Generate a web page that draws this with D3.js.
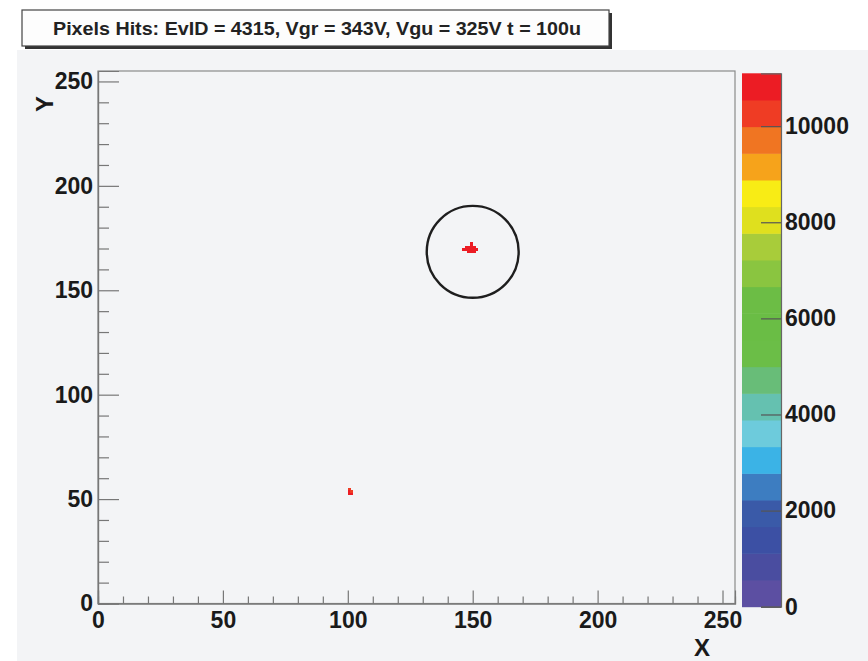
<!DOCTYPE html>
<html><head><meta charset="utf-8">
<script src="https://cdn.jsdelivr.net/npm/d3@7"></script>
<style>
html,body{margin:0;padding:0;background:#fff;}
svg{display:block;}
text{font-family:"Liberation Sans",Arial,Helvetica,sans-serif;}
</style></head>
<body>
<svg id="chart" width="868" height="661"></svg>
<script>
// ---- data ----
const titleText = "Pixels Hits: EvID = 4315, Vgr = 343V, Vgu = 325V t = 100u";
const xDomain = [0, 255];
const yDomain = [0, 255];
const xMajorTicks = [0, 50, 100, 150, 200, 250];
const yMajorTicks = [0, 50, 100, 150, 200, 250];
const zMax = 11100;
const zBands = 20;
const zTicks = [0, 2000, 4000, 6000, 8000, 10000];
const palette = ["#5c4fa2","#4a4da0","#3c50a4","#3a5aa8","#3d7dc1","#3bb3e6","#6dcbdc","#65c1b0","#68bd78","#6bbe47",
                 "#6abd45","#6cbd45","#8ac540","#a8cc3a","#dfe01e","#f8ec15","#f6a31b","#f07522","#ef3c24","#ec1c24"];
// hit pixels (column, row, charge)
const hitX = [148,149,150, 146,147,148,149,150,151, 147,148,149,150, 149,149,  100,100,101,100,101];
const hitY = [168,168,168, 169,169,169,169,169,169, 170,170,170,170, 171,172,   54, 53, 53, 52, 52];
const hitZ = [10700,11000,10800, 10600,10900,11000,11000,10900,10600, 10800,11000,11000,10700, 10900,10600,
              10400,10800,10300,10900,10600];
// circle (fiducial) centre and radius in pixel-column units
const circleCX = [150.0];
const circleCY = [168.4];
const circleR = [18.4];

// ---- layout ----
const svg = d3.select("#chart");
const L = 98, R = 735, T = 71, B = 603.5;
const x = d3.scaleLinear().domain(xDomain).range([L, R]);
const y = d3.scaleLinear().domain(yDomain).range([B, T]);
const z = d3.scaleLinear().domain([0, zMax]).range([606.7, 73.3]);
const zColor = d3.scaleQuantize().domain([0, zMax]).range(palette);

// panel background
svg.append("rect").attr("x", 17).attr("y", 50).attr("width", 868 - 17).attr("height", 661 - 50).attr("fill", "#f3f4f6");

// frame
svg.append("rect").attr("x", L).attr("y", T).attr("width", R - L).attr("height", B - T)
  .attr("fill", "none").attr("stroke", "#8a8a8a").attr("stroke-width", 1.2);

// hits
const hits = hitX.map((d, i) => ({c: d, r: hitY[i], v: hitZ[i]}));
svg.append("g").attr("shape-rendering", "crispEdges").selectAll("rect").data(hits).join("rect")
  .attr("x", d => x(d.c) - 0.3).attr("y", d => y(d.r + 1) - 0.3)
  .attr("width", d => x(d.c + 1) - x(d.c) + 0.6).attr("height", d => y(d.r) - y(d.r + 1) + 0.6)
  .attr("fill", d => zColor(d.v));

// circle
svg.append("g").selectAll("circle").data(circleCX.map((d, i) => ({cx: d, cy: circleCY[i], r: circleR[i]}))).join("circle")
  .attr("cx", d => x(d.cx)).attr("cy", d => y(d.cy)).attr("r", d => x(d.cx + d.r) - x(d.cx))
  .attr("fill", "none").attr("stroke", "#1e1e1e").attr("stroke-width", 2.4);

// axes
const minorX = d3.range(0, 256, 10).filter(v => v % 50 !== 0);
const minorY = d3.range(0, 256, 10).filter(v => v % 50 !== 0);
function styleAxis(g) {
  g.select(".domain").attr("stroke", "#777").attr("stroke-width", 1.2);
  g.selectAll(".tick line").attr("stroke", "#777").attr("stroke-width", 1.2);
  g.selectAll(".tick text").attr("fill", "#1a1a1a").style("font-size", "23px").style("font-weight", "bold");
}
svg.append("g").attr("transform", `translate(0,${B})`)
  .call(d3.axisBottom(x).tickValues(minorX).tickSize(-7).tickFormat("")).call(styleAxis);
svg.append("g").attr("transform", `translate(0,${B})`)
  .call(d3.axisBottom(x).tickValues(xMajorTicks).tickSize(-13).tickPadding(8).tickFormat(d3.format("d"))).call(styleAxis);
svg.append("g").attr("transform", `translate(${L},0)`)
  .call(d3.axisLeft(y).tickValues(minorY).tickSize(-11).tickFormat("")).call(styleAxis);
svg.append("g").attr("transform", `translate(${L},0)`)
  .call(d3.axisLeft(y).tickValues(yMajorTicks).tickSize(-21).tickPadding(5).tickFormat(d3.format("d"))).call(styleAxis);

// axis titles
svg.append("text").attr("x", 710).attr("y", 656).attr("text-anchor", "end")
  .style("font-size", "24px").style("font-weight", "bold").attr("fill", "#1a1a1a").text("X");
svg.append("text").attr("transform", "translate(53,96) rotate(-90)").attr("text-anchor", "end")
  .style("font-size", "24px").style("font-weight", "bold").attr("fill", "#1a1a1a").text("Y");

// colour bar
const cbL = 742, cbR = 781;
const bands = d3.range(zBands).map(i => ({lo: i * zMax / zBands, hi: (i + 1) * zMax / zBands}));
svg.append("g").selectAll("rect").data(bands).join("rect")
  .attr("x", cbL).attr("width", cbR - cbL)
  .attr("y", d => z(d.hi)).attr("height", d => z(d.lo) - z(d.hi) + 0.5)
  .attr("fill", d => zColor((d.lo + d.hi) / 2));
const zAxis = svg.append("g").attr("transform", `translate(${cbR},0)`)
  .call(d3.axisRight(z).tickValues(zTicks).tickSize(-20).tickPadding(4).tickFormat(d3.format("d")));
zAxis.select(".domain").attr("stroke", "#666").attr("stroke-width", 1.2);
zAxis.selectAll(".tick line").attr("stroke", "#555").attr("stroke-width", 1.2);
zAxis.selectAll(".tick text").attr("fill", "#1a1a1a").style("font-size", "23px").style("font-weight", "bold");

// title box
svg.append("rect").attr("x", 25).attr("y", 13).attr("width", 587).attr("height", 36).attr("fill", "#333");
svg.append("rect").attr("x", 22).attr("y", 10).attr("width", 587).attr("height", 36)
  .attr("fill", "#fdfdfd").attr("stroke", "#444").attr("stroke-width", 1.2);
svg.append("text").attr("x", 317).attr("y", 35).attr("text-anchor", "middle")
  .attr("textLength", 528).attr("lengthAdjust", "spacingAndGlyphs")
  .style("font-size", "19px").style("font-weight", "bold").attr("fill", "#222").text(titleText);
</script>
</body></html>
